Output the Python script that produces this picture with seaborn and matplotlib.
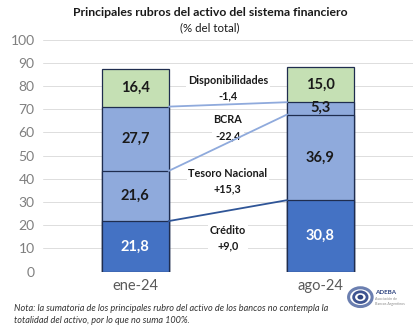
import matplotlib
matplotlib.use("Agg")
import matplotlib.pyplot as plt
import seaborn as sns
import pandas as pd
import numpy as np
from matplotlib.patches import Circle

periods = ["ene-24", "ago-24"]
series = ["Crédito", "Tesoro Nacional", "BCRA", "Disponibilidades"]
credito = [21.8, 30.8]
tesoro = [21.6, 36.9]
bcra = [27.7, 5.3]
disponibilidades = [16.4, 15.0]
changes = ["+9,0", "+15,3", "-22,4", "-1,4"]
yticks = [0, 10, 20, 30, 40, 50, 60, 70, 80, 90, 100]

colors = ["#4472C4", "#8FAADC", "#8FAADC", "#C5E0B4"]
line_colors = ["#2F5597", "#8FAADC", "#8FAADC"]
label_colors = ["white", "#1a1a1a", "#1a1a1a", "#1a1a1a"]

sns.set_theme(style="white")
plt.rcParams["font.family"] = ["Lato", "DejaVu Sans"]

values = [credito, tesoro, bcra, disponibilidades]
cum = np.cumsum(np.array(values), axis=0)  # shape (4, 2)

fig = plt.figure(figsize=(4.2, 3.35), dpi=100)
ax = fig.add_axes([0.102, 0.189, 0.881, 0.693])

width = 0.36
# draw stacked bars from top down using cumulative totals
for i in range(len(series) - 1, -1, -1):
    df = pd.DataFrame({"periodo": periods, "valor": cum[i]})
    sns.barplot(data=df, x="periodo", y="valor", color=colors[i], ax=ax,
                width=width, edgecolor="#1F2D4F", linewidth=0.9,
                saturation=1, zorder=3)

# value labels
for i, s in enumerate(series):
    for j in range(len(periods)):
        v = values[i][j]
        mid = cum[i][j] - v / 2
        if i == 2 and j == 1:
            mid = cum[i][j] - v / 2 + 0.3
        ax.text(j, mid, f"{v:.1f}".replace(".", ","), ha="center", va="center",
                fontsize=10.5, fontweight="bold", color=label_colors[i], zorder=5)

# connector lines
for i in range(3):
    ax.plot([0 + width / 2, 1 - width / 2], [cum[i][0], cum[i][1]],
            color=line_colors[i], lw=1.3, zorder=4)

# change annotations
ann_y = [14.4, 38.9, 62.0, 79.0]
for i, s in enumerate(series):
    ax.text(0.5, ann_y[i], f"{s}\n{changes[i]}", ha="center", va="center",
            fontsize=7.8, fontweight="bold", color="#1a1a1a", linespacing=1.5,
            zorder=3.5,
            bbox=dict(boxstyle="square,pad=0.15", fc="white", ec="none"))

ax.set_ylim(0, 100)
ax.set_xlim(-0.5, 1.5)
ax.set_yticks(yticks)
ax.yaxis.grid(True, color="#DDDDDD", lw=0.7, zorder=0)
ax.set_axisbelow(True)
for sp in ax.spines.values():
    sp.set_visible(False)
ax.set_xlabel("")
ax.set_ylabel("")
ax.tick_params(axis="y", length=0, pad=6, labelsize=10, labelcolor="#7F7F7F")
ax.tick_params(axis="x", length=0, pad=5, labelsize=10.5, labelcolor="#595959")

fig.text(0.5, 0.963, "Principales rubros del activo del sistema financiero",
         ha="center", va="center", fontsize=8.8, fontweight="bold", color="#1a1a1a")
fig.text(0.5, 0.918, "(% del total)", ha="center", va="center",
         fontsize=8.3, color="#1a1a1a")

fig.text(0.033, 0.061,
         "Nota: la sumatoria de los principales rubro del activo de los bancos no contempla la\n"
         "totalidad del activo, por lo que no suma 100%.",
         ha="left", va="center", fontsize=6.6, style="italic", color="#333333",
         linespacing=1.45)

# logo
for r, c, lw in [(0.028, "#6B7FB0", 2.2), (0.016, "#3F5592", 2.0)]:
    fig.add_artist(Circle((0.858, 0.113), r, transform=fig.transFigure,
                          fc="none", ec=c, lw=lw))
fig.add_artist(Circle((0.858, 0.113), 0.007, transform=fig.transFigure,
                      fc="#2F4580", ec="none"))
fig.text(0.893, 0.128, "ADEBA", fontsize=4.5, fontweight="bold",
         color="#2F4580", ha="left", va="center")
fig.text(0.893, 0.100, "Asociación de\nBancos Argentinos", fontsize=2.6,
         color="#8a8a8a", ha="left", va="center")

fig.savefig("out.png", dpi=100)
